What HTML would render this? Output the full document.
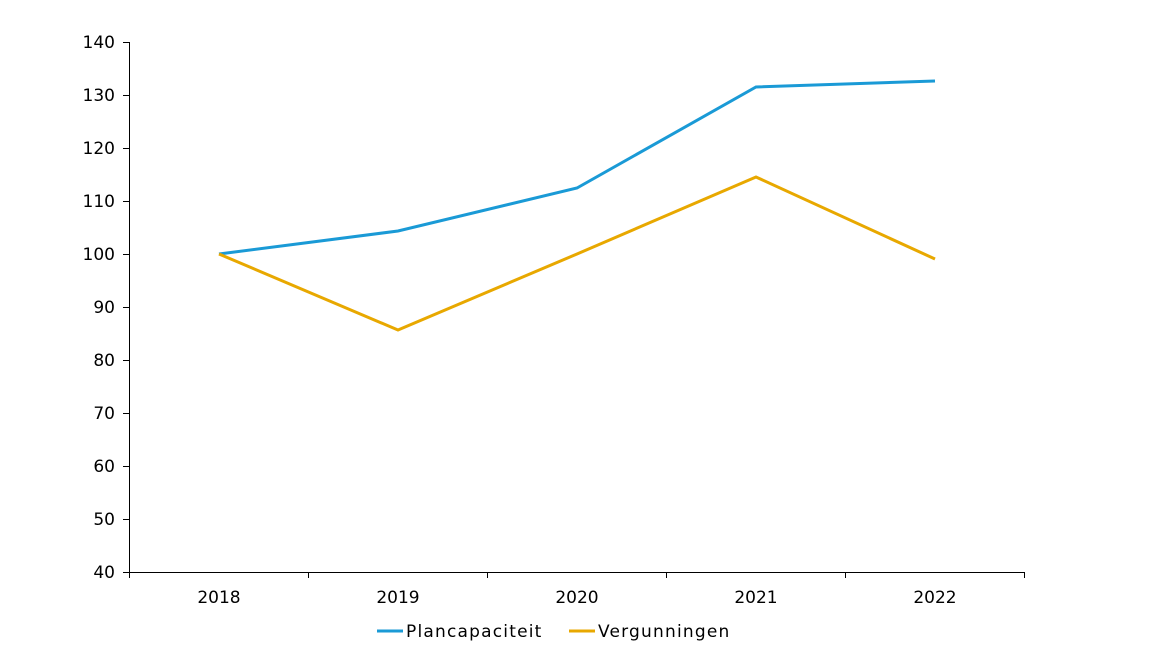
<!DOCTYPE html>
<html><head><meta charset="utf-8"><style>
html,body{margin:0;padding:0;background:#fff;}
svg text{font-family:"DejaVu Sans","Liberation Sans",sans-serif;font-size:17px;fill:#000;}
svg text.lg{letter-spacing:1.2px;}
</style></head><body>
<svg width="1164" height="659" viewBox="0 0 1164 659" xmlns="http://www.w3.org/2000/svg">
<g stroke="#000" stroke-width="1">
<line x1="129.5" y1="42" x2="129.5" y2="572"/>
<line x1="129" y1="572.5" x2="1025" y2="572.5"/>
<line x1="123" y1="42.5" x2="129" y2="42.5"/>
<line x1="123" y1="95.5" x2="129" y2="95.5"/>
<line x1="123" y1="148.5" x2="129" y2="148.5"/>
<line x1="123" y1="201.5" x2="129" y2="201.5"/>
<line x1="123" y1="254.5" x2="129" y2="254.5"/>
<line x1="123" y1="307.5" x2="129" y2="307.5"/>
<line x1="123" y1="360.5" x2="129" y2="360.5"/>
<line x1="123" y1="413.5" x2="129" y2="413.5"/>
<line x1="123" y1="466.5" x2="129" y2="466.5"/>
<line x1="123" y1="519.5" x2="129" y2="519.5"/>
<line x1="123" y1="572.5" x2="129" y2="572.5"/>
<line x1="129.5" y1="572" x2="129.5" y2="578"/>
<line x1="308.5" y1="572" x2="308.5" y2="578"/>
<line x1="487.5" y1="572" x2="487.5" y2="578"/>
<line x1="666.5" y1="572" x2="666.5" y2="578"/>
<line x1="845.5" y1="572" x2="845.5" y2="578"/>
<line x1="1024.5" y1="572" x2="1024.5" y2="578"/>
</g>
<g text-anchor="end">
<text x="115" y="48">140</text>
<text x="115" y="101">130</text>
<text x="115" y="154">120</text>
<text x="115" y="207">110</text>
<text x="115" y="260">100</text>
<text x="115" y="313">90</text>
<text x="115" y="366">80</text>
<text x="115" y="419">70</text>
<text x="115" y="472">60</text>
<text x="115" y="525">50</text>
<text x="115" y="578">40</text>
</g>
<g text-anchor="middle">
<text x="219" y="603">2018</text>
<text x="398" y="603">2019</text>
<text x="577" y="603">2020</text>
<text x="756" y="603">2021</text>
<text x="935" y="603">2022</text>
</g>
<polyline fill="none" stroke="#1a9ad6" stroke-width="3" points="219,254 398,231 577,188 756,87 935,81"/>
<polyline fill="none" stroke="#e8a800" stroke-width="3" points="219,254 398,330 577,254 756,177 935,259"/>
<line x1="377" y1="631" x2="403" y2="631" stroke="#1a9ad6" stroke-width="3"/>
<text class="lg" x="406" y="637">Plancapaciteit</text>
<line x1="569" y1="631" x2="595" y2="631" stroke="#e8a800" stroke-width="3"/>
<text class="lg" x="598" y="637">Vergunningen</text>
</svg>
</body></html>
